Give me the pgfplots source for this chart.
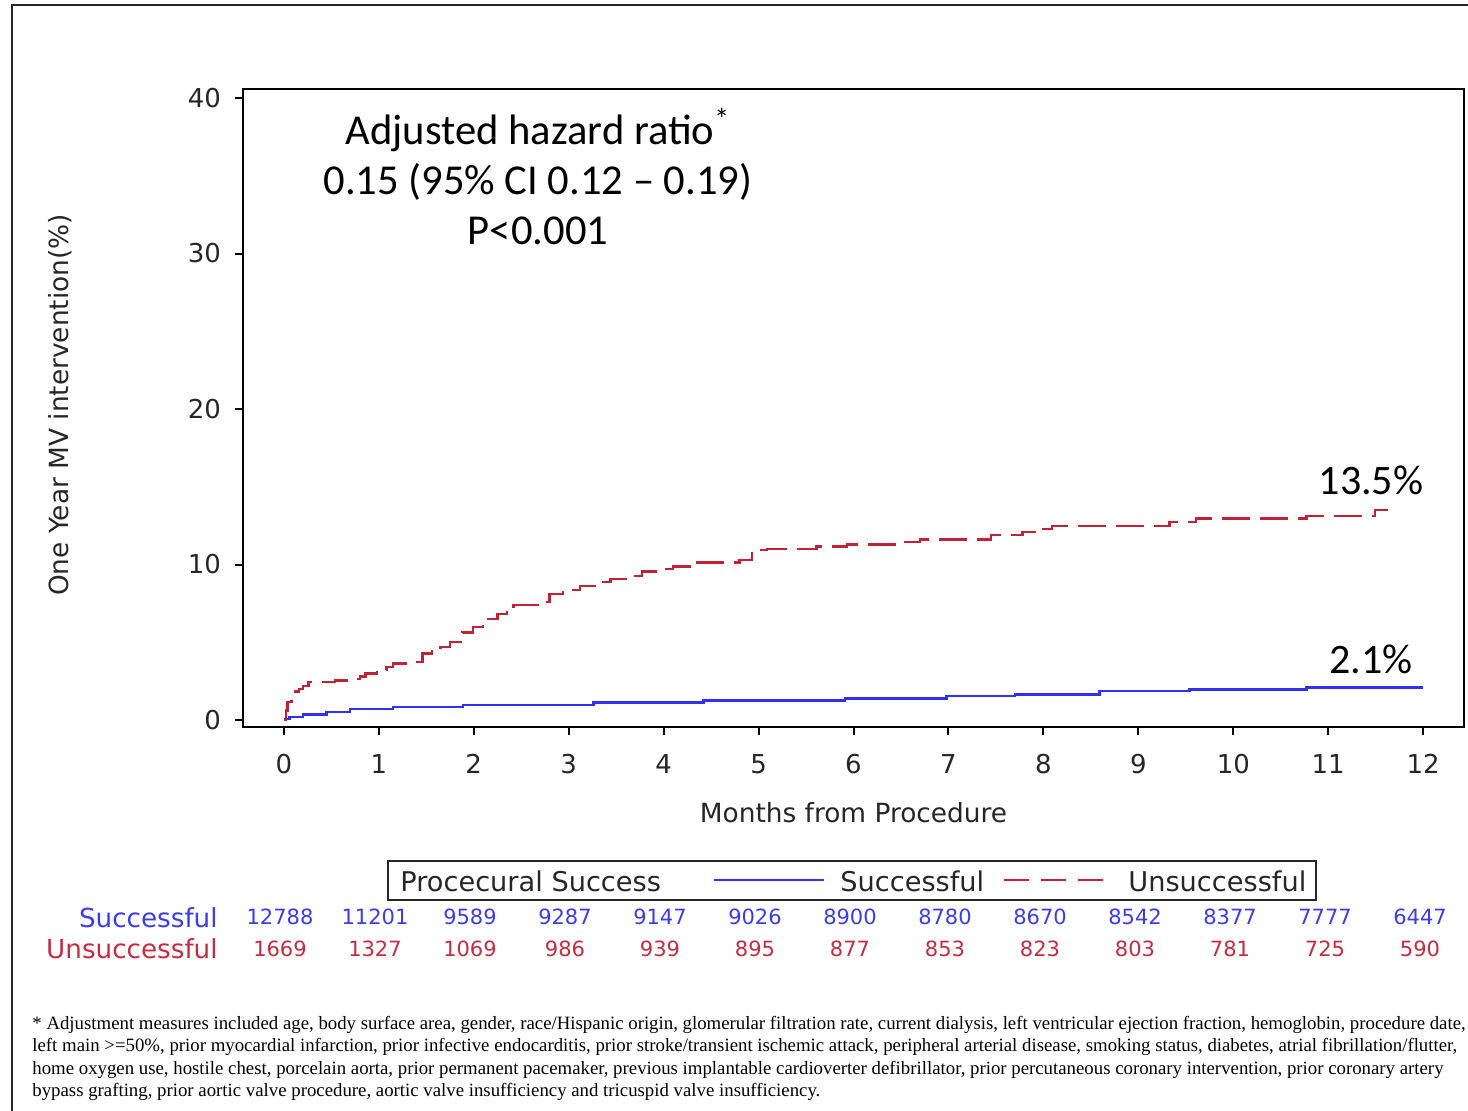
\documentclass[border=0pt]{standalone}
\usepackage{pgfplots}
\pgfplotsset{compat=1.18}
\usepackage{fontspec}
\setmainfont{DejaVu Sans}
\newfontfamily\calib{Carlito}
\newfontfamily\timesf{Liberation Serif}

\definecolor{kmblue}{RGB}{48,48,240}
\definecolor{kmred}{RGB}{190,36,54}
\definecolor{txtblue}{RGB}{60,60,235}
\definecolor{txtred}{RGB}{196,44,66}

\begin{document}
\begin{tikzpicture}
\useasboundingbox (0,0) rectangle (734pt,-555pt);

\begin{axis}[
  at={(121.5pt,-363.5pt)}, anchor=south west,
  scale only axis, width=610.5pt, height=319pt,
  xmin=-0.43, xmax=12.43, ymin=-0.45, ymax=40.58,
  xtick={0,1,...,12}, ytick={0,10,20,30,40},
  xtick pos=bottom, ytick pos=left,
  tick align=outside, major tick length=4pt,
  axis line style={line width=1pt},
  every tick/.style={line width=1pt, black},
  tick label style={font=\fontsize{13}{15}\selectfont, text=black!85},
  xticklabel style={yshift=-6pt},
  yticklabel style={xshift=-3.5pt},
  /pgf/number format/assume math mode=true,
  xlabel={Months from Procedure},
  ylabel={One Year MV intervention(\%)},
  label style={font=\fontsize{13.2}{15}\selectfont, text=black!85},
  xlabel style={at={(axis description cs:0.5,-0.1348)}, anchor=center},
  ylabel style={at={(axis description cs:-0.1499,0.505)}, anchor=center},
  clip=false,
]
% Successful procedures
\addplot[const plot, kmblue, line width=1.2pt] coordinates {
  (0,0.05) (0.06,0.2) (0.2,0.35) (0.45,0.52) (0.7,0.69) (1.15,0.82)
  (1.89,0.95) (3.26,1.12) (4.42,1.25) (5.91,1.38) (6.98,1.55) (7.7,1.65)
  (8.59,1.85) (9.54,1.97) (10.77,2.1) (12.0,2.1)
};
% Unsuccessful procedures
\addplot[const plot, kmred, line width=1.2pt, dash pattern=on 14pt off 5pt] coordinates {
  (0,0) (0.02,0.6) (0.04,1.17) (0.08,1.5) (0.12,1.83) (0.16,2.0) (0.2,2.2)
  (0.26,2.45) (0.54,2.55) (0.7,2.65) (0.8,2.8) (0.86,2.98) (0.98,3.2)
  (1.08,3.4) (1.15,3.63) (1.36,3.75) (1.46,4.27) (1.56,4.45) (1.65,4.7)
  (1.75,5.0) (1.88,5.64) (1.99,6.0) (2.1,6.5) (2.25,6.8) (2.35,7.1)
  (2.42,7.4) (2.7,7.6) (2.8,8.1) (2.94,8.35) (3.12,8.6) (3.3,8.86)
  (3.44,9.07) (3.6,9.25) (3.77,9.54) (3.96,9.71) (4.1,9.86) (4.33,10.14)
  (4.8,10.3) (4.93,10.93) (5.09,11.0) (5.61,11.17) (5.93,11.3) (6.54,11.46)
  (6.7,11.6) (7.45,11.9) (7.78,12.1) (8.0,12.28) (8.09,12.49) (9.33,12.74)
  (9.61,12.96) (10.77,13.13) (11.49,13.5) (11.63,13.5)
};
\node[font=\calib\fontsize{21}{25}\selectfont] at (axis cs:11.45,15.4) {13.5\%};
\node[font=\calib\fontsize{21}{25}\selectfont] at (axis cs:11.45,3.9) {2.1\%};
\end{axis}

\begin{scope}[x=0.5pt,y=-0.5pt]
  % outer frame
  \draw[line width=1pt, black!85] (12,1115) -- (12,5) -- (1475,5);

  % hazard ratio annotation
  \node[align=center, font=\calib\fontsize{21.3}{25}\selectfont] at (538,177)
    {Adjusted hazard ratio\textsuperscript{*}\\0.15 (95\% CI 0.12 – 0.19)\\P<0.001};

  % legend
  \begin{scope}[font=\fontsize{13.6}{15}\selectfont]
    \draw[line width=1pt, black!85] (388,861) rectangle (1316,900);
    \node[anchor=west, inner sep=0, text=black!85] at (400,881) {Procecural Success};
    \draw[kmblue, line width=1.2pt] (714,880) -- (824,880);
    \node[anchor=west, inner sep=0, text=black!85] at (840,881) {Successful};
    \draw[kmred, line width=1.2pt, dash pattern=on 12.5pt off 6pt] (1004,880) -- (1106,880);
    \node[anchor=west, inner sep=0, text=black!85] at (1128,881) {Unsuccessful};
  \end{scope}

  % numbers at risk
  \node[anchor=east, inner sep=0, text=txtblue, font=\fontsize{13.1}{15}\selectfont] at (218,918) {Successful};
  \node[anchor=east, inner sep=0, text=txtred, font=\fontsize{13.1}{15}\selectfont] at (218,949) {Unsuccessful};
  \foreach \v [count=\i from 0] in {12788,11201,9589,9287,9147,9026,8900,8780,8670,8542,8377,7777,6447}
    \node[text=txtblue, font=\fontsize{10.5}{12}\selectfont] at ({280+95*\i},917) {\v};
  \foreach \v [count=\i from 0] in {1669,1327,1069,986,939,895,877,853,823,803,781,725,590}
    \node[text=txtred, font=\fontsize{10.5}{12}\selectfont] at ({280+95*\i},949) {\v};

  % footnote
  \node[anchor=north west, align=left, inner sep=0, font=\timesf\fontsize{9.4}{11.17}\selectfont] at (32,1016)
    {* Adjustment measures included age, body surface area, gender, race/Hispanic origin, glomerular filtration rate, current dialysis, left ventricular ejection fraction, hemoglobin, procedure date,\\
     left main >=50\%, prior myocardial infarction, prior infective endocarditis, prior stroke/transient ischemic attack, peripheral arterial disease, smoking status, diabetes, atrial fibrillation/flutter,\\
     home oxygen use, hostile chest, porcelain aorta, prior permanent pacemaker, previous implantable cardioverter defibrillator, prior percutaneous coronary intervention, prior coronary artery\\
     bypass grafting, prior aortic valve procedure, aortic valve insufficiency and tricuspid valve insufficiency.};
\end{scope}
\end{tikzpicture}
\end{document}
